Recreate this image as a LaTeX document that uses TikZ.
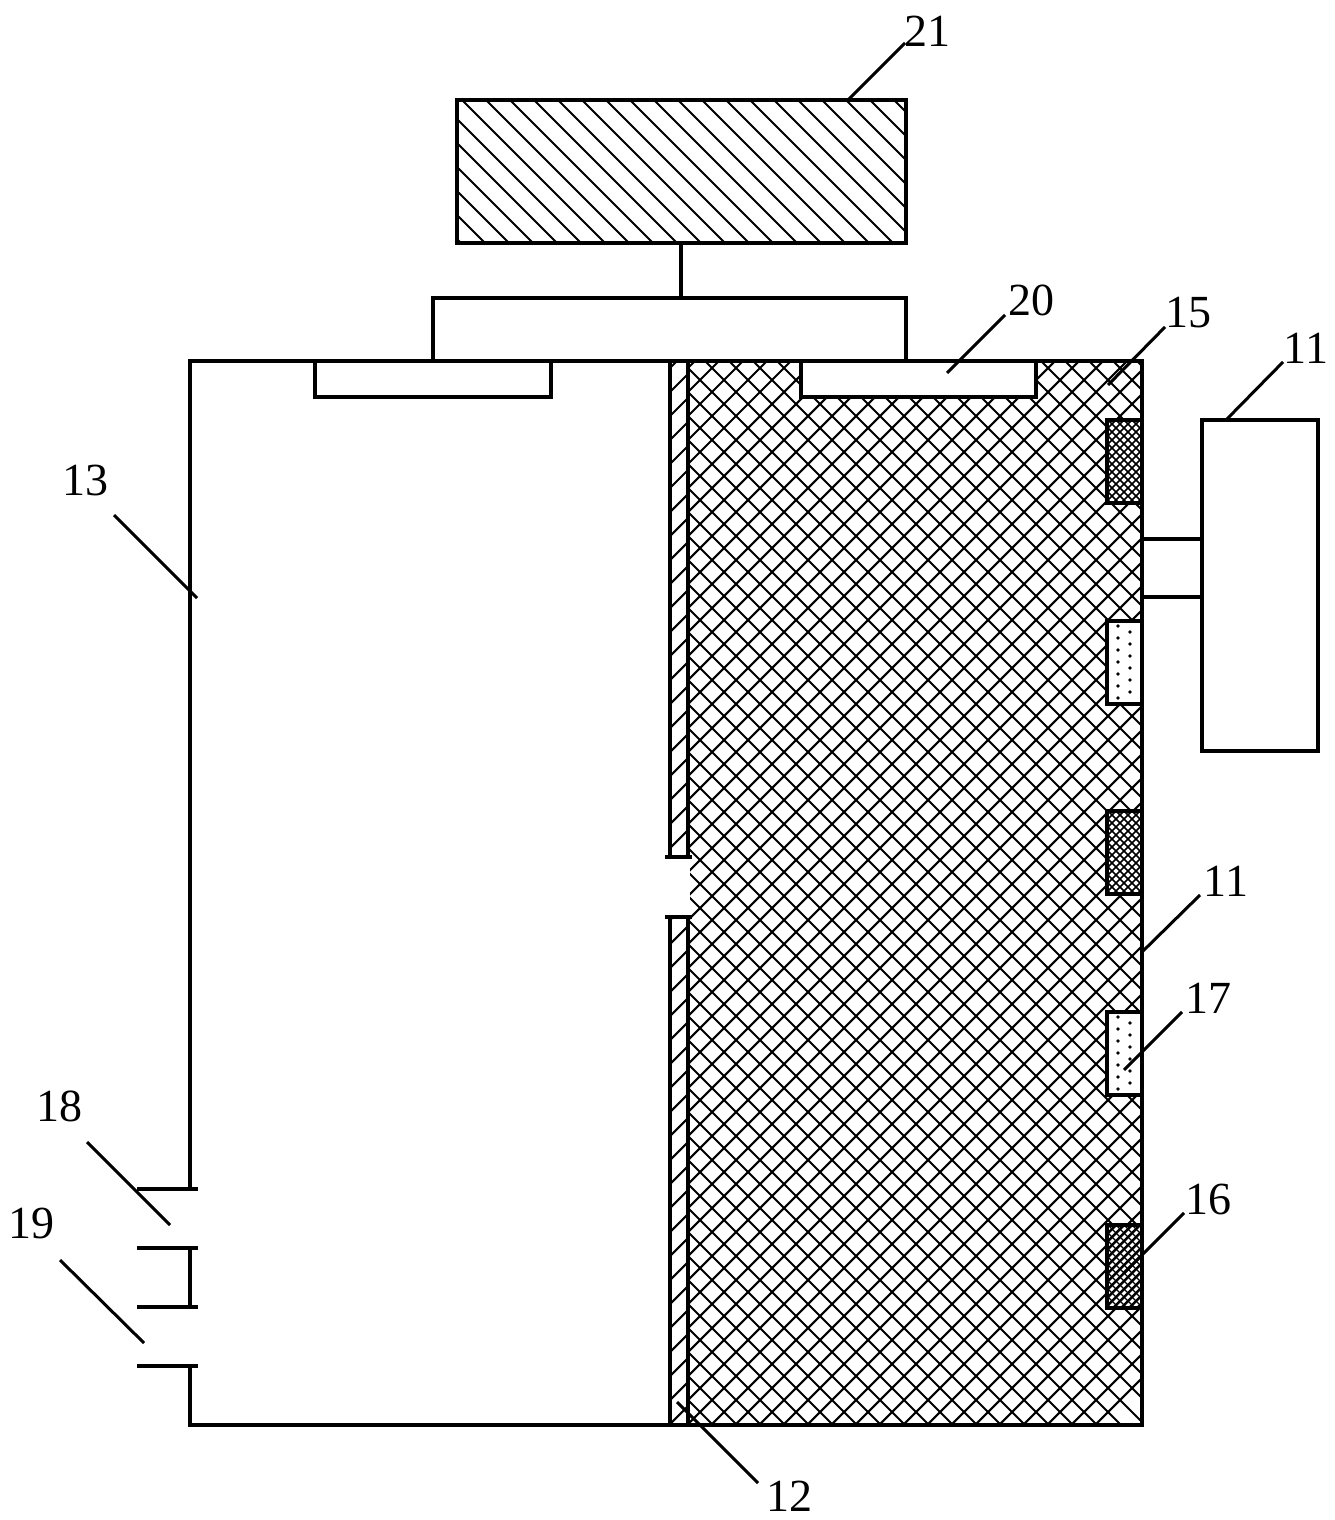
\documentclass[tikz,border=0pt]{standalone}
\usepackage{fontspec}
\setmainfont{Liberation Serif}
\usetikzlibrary{positioning}
\tikzset{
  wall/.style={draw,line width=4pt,line cap=rect},
  thinwall/.style={draw,line width=3.4pt,line cap=rect},
  hatchline/.style={draw,line width=2.1pt},
  lead/.style={draw,line width=3pt},
  lab/.style={inner sep=0pt,font=\fontsize{46}{46}\selectfont}
}
\begin{document}
\begin{tikzpicture}[x=1pt,y=-1pt]
\useasboundingbox (0,0) rectangle (1335,1520);
% hatch inside a region
\newcommand\hatchdown[5]{
\begin{scope}
\clip (#1,#2) rectangle (#3,#4);
\foreach \k in {-60,...,60}
  \path[hatchline] (#1-50,#1-50-#5-\k*24) -- (#3+50,#3+50-#5-\k*24);
\end{scope}
}
\newcommand\hatchup[5]{
\begin{scope}
\clip (#1,#2) rectangle (#3,#4);
\foreach \k in {-60,...,60}
  \path[hatchline] (#1-50,#5+\k*24-#1+50) -- (#3+50,#5+\k*24-#3-50);
\end{scope}
}
% side pads
\newcommand\darkpad[3]{
\path[fill=white] (1107,#1) rectangle (1142,#1+83);
\begin{scope}
\clip (1107,#1) rectangle (1142,#1+83);
\foreach \k in {-40,...,40} {
  \path[draw,line width=#2pt] (1100,#1+\k*8) -- (1150,#1+50+\k*8);
  \path[draw,line width=#3pt] (1100,#1+\k*8) -- (1150,#1-50+\k*8);
}
\end{scope}
\path[wall] (1107,#1) rectangle (1142,#1+83);
}
\newcommand\dotpad[1]{
\path[fill=white] (1107,#1) rectangle (1142,#1+83);
\foreach \k in {0,...,6} {
  \path[fill=black] (1118,#1+5+\k*12) circle (1.9);
  \path[fill=black] (1130,#1+11+\k*12) circle (1.9);
}
\path[wall] (1107,#1) rectangle (1142,#1+83);
}
% label with its leader line
\newcommand\tag[8]{
\node[lab] (lab#1) at (#3,#4) {#2};
\coordinate (from#1) at (#5,#6);
\coordinate (to#1) at (#7,#8);
\path[lead] (from#1) -- (to#1);
}

% cross hatched chamber
\hatchdown{690}{361}{1142}{1425}{344}
\hatchup{690}{361}{1142}{1425}{1080}
\path[fill=white] (801,361) rectangle (1036,397);
\path[fill=white] (670,361) rectangle (688,858);
\path[fill=white] (670,917) rectangle (688,1425);
\hatchup{670}{361}{688}{858}{1062}
\hatchup{670}{917}{688}{1425}{1062}

% cell walls
\path[wall] (190,1189) -- (190,361) -- (1142,361) -- (1142,1425) -- (190,1425) -- (190,1366);
\path[wall] (190,1248) -- (190,1307);
\path[wall] (139,1189) -- (196,1189);
\path[wall] (139,1248) -- (196,1248);
\path[wall] (139,1307) -- (196,1307);
\path[wall] (139,1366) -- (196,1366);

% membrane
\path[wall] (670,361) -- (670,857);
\path[wall] (688,361) -- (688,857);
\path[wall] (667,857) -- (690,857);
\path[wall] (667,917) -- (690,917);
\path[wall] (670,917) -- (670,1425);
\path[wall] (688,917) -- (688,1425);

% top electrodes and lead
\path[wall] (315,361) rectangle (551,397);
\path[wall] (801,361) rectangle (1036,397);
\path[wall] (433,361) -- (433,298) -- (906,298) -- (906,361);
\path[wall] (681,243) -- (681,298);

% box on top
\hatchdown{457}{100}{906}{243}{338}
\path[wall] (457,100) rectangle (906,243);

% side pads
\darkpad{420}{1.7}{1.7}
\dotpad{621}
\darkpad{811}{1.7}{1.7}
\dotpad{1012}
\darkpad{1225}{1.3}{2.5}

% box at the right
\path[thinwall] (1202,420) rectangle (1318,751);
\path[thinwall] (1142,539) -- (1202,539);
\path[thinwall] (1142,597) -- (1202,597);

\tag{a}{21}{927}{31}{848}{100}{905}{43}
\tag{b}{20}{1031}{300}{947}{373}{1005}{315}
\tag{c}{15}{1188}{313}{1108}{385}{1165}{327}
\tag{d}{11}{1306}{348}{1226}{420}{1283}{362}
\tag{e}{13}{85}{480}{114}{515}{197}{598}
\tag{f}{11}{1226}{881}{1142}{952}{1200}{895}
\tag{g}{17}{1208}{998}{1124}{1070}{1182}{1012}
\tag{h}{16}{1208}{1199}{1124}{1273}{1184}{1213}
\tag{i}{18}{59}{1106}{87}{1142}{170}{1225}
\tag{j}{19}{32}{1223}{60}{1260}{144}{1343}
\tag{k}{12}{789}{1496}{677}{1402}{758}{1483}
\end{tikzpicture}
\end{document}
